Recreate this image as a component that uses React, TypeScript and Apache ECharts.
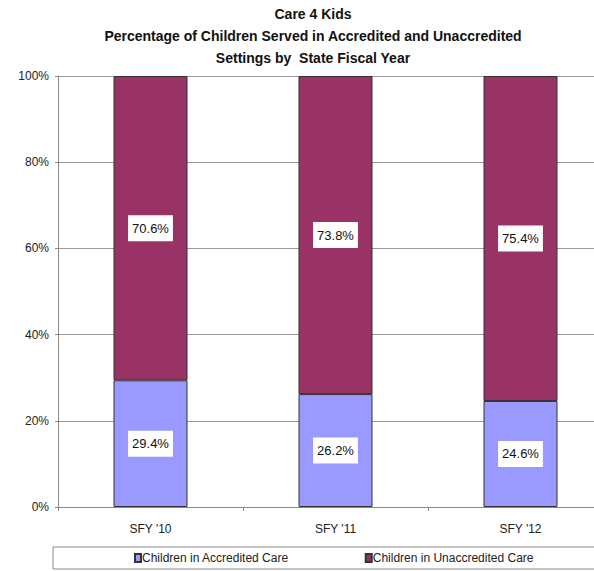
import React, { useEffect, useRef } from "react";
import * as echarts from "echarts";

const categories = ["SFY '10", "SFY '11", "SFY '12"];
const accredited = [29.4, 26.2, 24.6];
const unaccredited = [70.6, 73.8, 75.4];
const seriesNames = ["Children in Accredited Care", "Children in Unaccredited Care"];
const titleLines = [
  "Care 4 Kids",
  "Percentage of Children Served in Accredited and Unaccredited",
  "Settings by  State Fiscal Year",
];

const FONT = "'Liberation Sans', Arial, sans-serif";

export default function App() {
  const ref = useRef<HTMLDivElement>(null);
  useEffect(() => {
    if (!ref.current) return;
    const chart = echarts.init(ref.current, null, { renderer: "svg" });
    const label = {
      show: true,
      position: "inside",
      formatter: (p: any) => `${Number(p.value).toFixed(1)}%`,
      backgroundColor: "#ffffff",
      padding: [7, 4, 6, 4],
      color: "#111",
      fontSize: 13,
      fontFamily: FONT,
    };
    chart.setOption({
      animation: false,
      backgroundColor: "#ffffff",
      title: {
        text: titleLines.join("\n"),
        left: 308,
        top: -2,
        textAlign: "center",
        textStyle: {
          fontFamily: FONT,
          fontWeight: "bold",
          fontSize: 14,
          lineHeight: 22,
          color: "#111",
        },
      },
      grid: { left: 58, top: 76, width: 555, height: 431, containLabel: false, outerBoundsMode: "none" },
      xAxis: {
        type: "category",
        data: categories,
        axisLine: { lineStyle: { color: "#888" } },
        axisTick: { show: true, length: 4, lineStyle: { color: "#888" } },
        axisLabel: { fontFamily: FONT, fontSize: 12, color: "#222", margin: 16 },
      },
      yAxis: {
        type: "value",
        min: 0,
        max: 100,
        interval: 20,
        axisLine: { show: true, lineStyle: { color: "#888" } },
        axisTick: { show: true, length: 3, lineStyle: { color: "#888" } },
        axisLabel: { formatter: "{value}%", fontFamily: FONT, fontSize: 12, color: "#222", margin: 9 },
        splitLine: { lineStyle: { color: "#999", width: 1 } },
      },
      legend: {
        data: seriesNames,
        left: 134,
        top: 552,
        padding: 0,
        itemWidth: 6,
        itemHeight: 8,
        itemGap: 76,
        icon: "rect",
        textStyle: { fontFamily: FONT, fontSize: 12, color: "#222", padding: [0, 0, 0, -4] },
      },
      graphic: [
        {
          type: "rect",
          shape: { x: 53, y: 547, width: 560, height: 22 },
          style: { fill: "none", stroke: "#888", lineWidth: 1 },
          z: -1,
        },
      ],
      series: [
        {
          name: seriesNames[0],
          type: "bar",
          stack: "total",
          data: accredited,
          barWidth: 74,
          itemStyle: { color: "#9999FF", borderColor: "#333", borderWidth: 1 },
          label,
        },
        {
          name: seriesNames[1],
          type: "bar",
          stack: "total",
          data: unaccredited,
          barWidth: 74,
          itemStyle: { color: "#993366", borderColor: "#333", borderWidth: 1 },
          label,
        },
      ],
    });
    return () => chart.dispose();
  }, []);
  return (
    <div
      ref={ref}
      style={{ position: "fixed", left: 0, top: 0, width: 594, height: 571, background: "#fff" }}
    />
  );
}
